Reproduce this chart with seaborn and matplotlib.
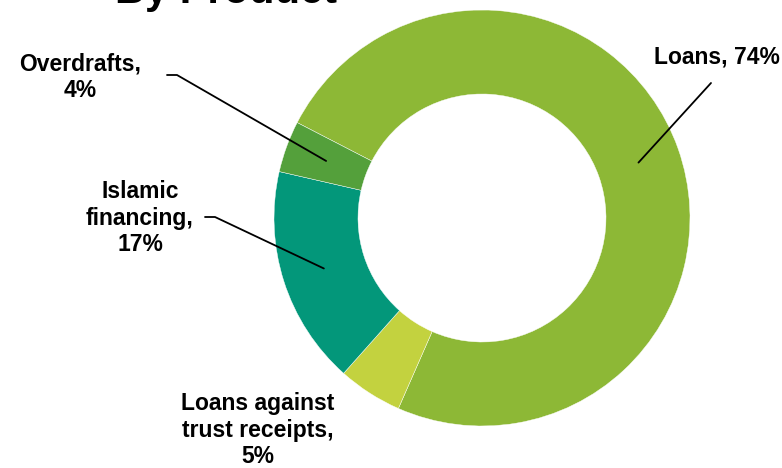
import matplotlib
matplotlib.use("Agg")

import numpy as np
import matplotlib.pyplot as plt
import seaborn as sns

sns.set_theme(style="white")
plt.rcParams["font.family"] = ["Liberation Sans", "DejaVu Sans"]

products = ["Loans", "Loans against trust receipts", "Islamic financing", "Overdrafts"]
shares = [74, 5, 17, 4]
labels = ["Loans, 74%", "Loans against\ntrust receipts,\n5%", "Islamic\nfinancing,\n17%", "Overdrafts,\n4%"]
colors = ["#8DB836", "#C3D23F", "#03977A", "#54A03B"]

W, H = 782, 468
fig = plt.figure(figsize=(W / 100, H / 100), dpi=100)
ax = fig.add_axes([0, 0, 1, 1])
ax.set_xlim(0, W)
ax.set_ylim(0, H)
ax.set_aspect("equal")
ax.axis("off")

cx, cy, r_out, r_in = 482, H - 218, 208, 124
start = 152.7
wedges, _ = ax.pie(
    shares, colors=colors, startangle=start, counterclock=False,
    center=(cx, cy), radius=r_out,
    wedgeprops=dict(width=r_out - r_in, edgecolor="white", linewidth=0.3),
)
ax.set_xlim(0, W)
ax.set_ylim(0, H)

# label text positions (pixels from top) and leader-line elbows
text_pos = [(717, 57), (258, 430), (140, 218), (80, 77)]
elbows = [None, None, [(205, 217), (215, 217)], [(167, 75), (177, 75)]]

r_mid = (r_out + r_in) / 2
for w, lab, (tx, ty), elb in zip(wedges, labels, text_pos, elbows):
    mid = np.deg2rad((w.theta1 + w.theta2) / 2)
    px, py = cx + r_mid * np.cos(mid), cy + r_mid * np.sin(mid)
    ax.text(tx, H - ty, lab, ha="center", va="center", fontsize=16.5,
            fontweight="bold", color="black", linespacing=1.22)
    if lab.startswith("Loans,"):
        ax.plot([711, px], [H - 83, py], color="black", lw=1.3)
    elif elb is not None:
        xs = [elb[0][0], elb[1][0], px]
        ys = [H - elb[0][1], H - elb[1][1], py]
        ax.plot(xs, ys, color="black", lw=1.3)

ax.text(115, H - 3, "By Product", ha="left", va="baseline", fontsize=30,
        fontweight="bold", color="black")

fig.savefig("out.png", dpi=100)
